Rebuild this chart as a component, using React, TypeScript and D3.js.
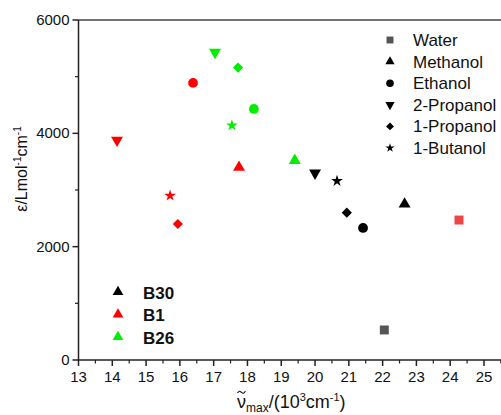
import * as d3 from 'd3';

const solvents = ["Water", "Methanol", "Ethanol", "2-Propanol", "1-Propanol", "1-Butanol"];

// wavenumber (10^3 cm-1) and epsilon per solvent, null = not measured
const b30Nu = [22.05, 22.65, 21.42, 20.0, 20.94, 20.65];
const b30Eps = [530, 2750, 2330, 3300, 2600, 3160];
const b1Nu = [24.26, 17.75, 16.39, 14.14, 15.94, 15.71];
const b1Eps = [2470, 3400, 4890, 3880, 2400, 2900];
const b26Nu = [null, 19.4, 18.19, 17.04, 17.72, 17.54];
const b26Eps = [null, 3520, 4430, 5430, 5160, 4140];

const seriesNames = ["B30", "B1", "B26"];
const seriesColors = ["#000000", "#ff0000", "#00ee00"];
const waterColors = ["#555555", "#ee4444", "#00ee00"];

const xTicks = [13, 14, 15, 16, 17, 18, 19, 20, 21, 22, 23, 24, 25];
const yTicks = [0, 2000, 4000, 6000];

const W = 501, H = 415;
const m = { left: 78.5, top: 20, bottom: 360 };

function symbolPath(name: string, k: number) {
  if (name === "Water") return { d: d3.symbol(d3.symbolSquare, 80 * k)()!, rot: 0 };
  if (name === "Methanol") return { d: d3.symbol(d3.symbolTriangle, 62 * k)()!, rot: 0 };
  if (name === "Ethanol") return { d: d3.symbol(d3.symbolCircle, 75 * k)()!, rot: 0 };
  if (name === "2-Propanol") return { d: d3.symbol(d3.symbolTriangle, 62 * k)()!, rot: 180 };
  if (name === "1-Propanol") return { d: d3.symbol(d3.symbolSquare, 52 * k)()!, rot: 45 };
  return { d: d3.symbol(d3.symbolStar, 42 * k)()!, rot: 0 };
}

export default function App() {
  const x = d3.scaleLinear().domain([13, 25]).range([m.left, 484]);
  const y = d3.scaleLinear().domain([0, 6000]).range([m.bottom, m.top]);
  const minorX = d3.range(13.5, 25.6, 1);
  const minorY = [1000, 3000, 5000];

  const all = [
    { nu: b30Nu, eps: b30Eps },
    { nu: b1Nu, eps: b1Eps },
    { nu: b26Nu, eps: b26Eps },
  ];

  const legendY = d3.scaleLinear().domain([0, 5]).range([40, 148]);
  const groupY = d3.scaleLinear().domain([0, 2]).range([292, 337]);

  const axisColor = "#222";

  // small tilde above the nu
  const tilde = d3.line().curve(d3.curveBasis)([[237.5, 393], [239.5, 390.5], [241.5, 392.5], [243.5, 394], [245.5, 391]])!;

  return (
    <svg width={W} height={H} style={{ position: "absolute", left: 0, top: 0, fontFamily: "Liberation Sans, Arial, sans-serif" }}>
      <rect width={W} height={H} fill="white" />
      {/* frame */}
      <line x1={m.left} x2={W} y1={m.top} y2={m.top} stroke="#444" strokeWidth={1.5} />
      <line x1={m.left} x2={W} y1={m.bottom} y2={m.bottom} stroke={axisColor} strokeWidth={1.5} />
      <line x1={m.left} x2={m.left} y1={m.top} y2={m.bottom} stroke={axisColor} strokeWidth={1.5} />

      {xTicks.map(t => (
        <g key={"x" + t}>
          <line x1={x(t)} x2={x(t)} y1={m.bottom} y2={m.bottom + 6} stroke={axisColor} strokeWidth={1.5} />
          <text x={x(t)} y={m.bottom + 22} textAnchor="middle" fontSize={15} fill="#111">{t}</text>
        </g>
      ))}
      {minorX.map(t => (
        <line key={"mx" + t} x1={x(t)} x2={x(t)} y1={m.bottom} y2={m.bottom + 3.5} stroke={axisColor} strokeWidth={1.2} />
      ))}
      {yTicks.map(t => (
        <g key={"y" + t}>
          <line x1={m.left - 6} x2={m.left} y1={y(t)} y2={y(t)} stroke={axisColor} strokeWidth={1.5} />
          <text x={m.left - 9} y={y(t) + 5} textAnchor="end" fontSize={15} fill="#111">{t}</text>
        </g>
      ))}
      {minorY.map(t => (
        <line key={"my" + t} x1={m.left - 3.5} x2={m.left} y1={y(t)} y2={y(t)} stroke={axisColor} strokeWidth={1.2} />
      ))}

      {/* axis titles */}
      <text transform="translate(27,169) rotate(-90)" textAnchor="middle" fontSize={16} fill="#111">
        ε/Lmol<tspan dy={-6} fontSize={10}>-1</tspan><tspan dy={6}>cm</tspan><tspan dy={-6} fontSize={10}>-1</tspan>
      </text>
      <text x={237} y={408} fontSize={18} fill="#111">
        ν<tspan dy={4} fontSize={12}>max</tspan><tspan dy={-4}>/(10</tspan><tspan dy={-7} fontSize={11}>3</tspan><tspan dy={7}>cm</tspan><tspan dy={-7} fontSize={11}>-1</tspan><tspan dy={7}>)</tspan>
      </text>
      <path d={tilde} fill="none" stroke="#111" strokeWidth={1.1} />

      {/* points */}
      {all.map((s, si) =>
        solvents.map((name, i) => {
          const nu = s.nu[i], eps = s.eps[i];
          if (nu == null || eps == null) return null;
          const sym = symbolPath(name, 1);
          const fill = name === "Water" ? waterColors[si] : seriesColors[si];
          return (
            <path key={si + name} d={sym.d} fill={fill}
              transform={`translate(${x(nu)},${y(eps)}) rotate(${sym.rot})`} />
          );
        })
      )}

      {/* solvent legend */}
      {solvents.map((name, i) => {
        const sym = symbolPath(name, 0.6);
        return (
          <g key={"l" + name}>
            <path d={sym.d} fill={name === "Water" ? "#555555" : "#000"}
              transform={`translate(390,${legendY(i)}) rotate(${sym.rot})`} />
            <text x={413} y={legendY(i) + 6} fontSize={17} fill="#111">{name}</text>
          </g>
        );
      })}

      {/* dye legend */}
      {seriesNames.map((name, i) => (
        <g key={"g" + name}>
          <path d={d3.symbol(d3.symbolTriangle, 50)()!} fill={seriesColors[i]}
            transform={`translate(118,${groupY(i)})`} />
          <text x={143} y={groupY(i) + 6.5} fontSize={17} fontWeight="bold" fill="#111">{name}</text>
        </g>
      ))}
    </svg>
  );
}
